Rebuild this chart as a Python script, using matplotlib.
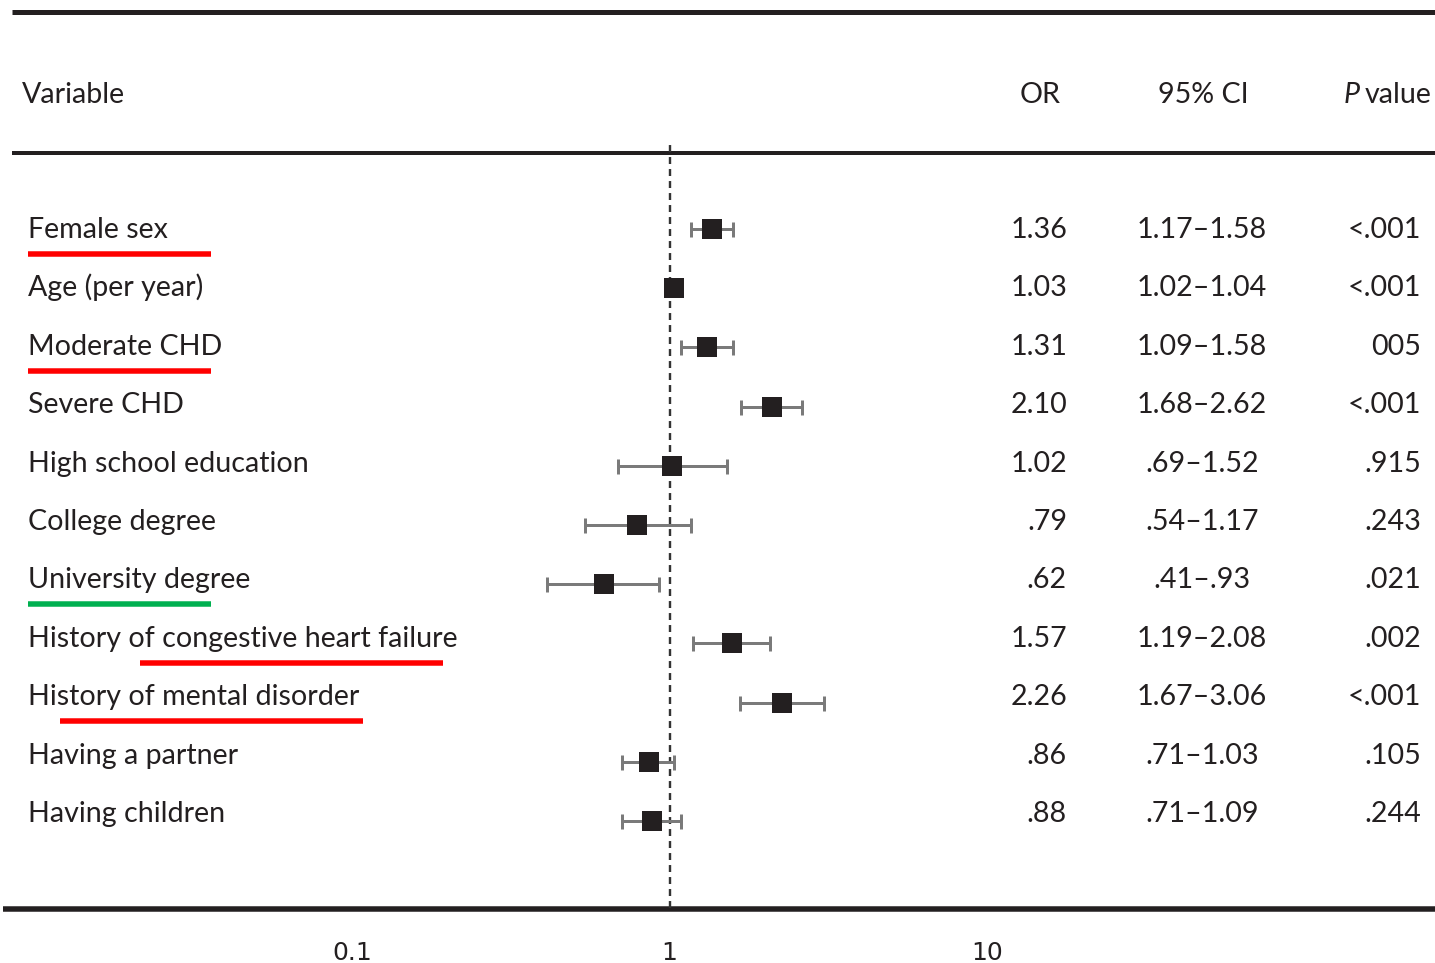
import matplotlib
matplotlib.use('Agg')
import matplotlib.pyplot as plt
from matplotlib.ticker import NullLocator

# ---------------- data ----------------
variables = ['Female sex', 'Age (per year)', 'Moderate CHD', 'Severe CHD',
             'High school education', 'College degree', 'University degree',
             'History of congestive heart failure', 'History of mental disorder',
             'Having a partner', 'Having children']
odds_ratios = [1.36, 1.03, 1.31, 2.10, 1.02, 0.79, 0.62, 1.57, 2.26, 0.86, 0.88]
ci_low = [1.17, 1.02, 1.09, 1.68, 0.69, 0.54, 0.41, 1.19, 1.67, 0.71, 0.71]
ci_high = [1.58, 1.04, 1.58, 2.62, 1.52, 1.17, 0.93, 2.08, 3.06, 1.03, 1.09]
or_labels = ['1.36', '1.03', '1.31', '2.10', '1.02', '.79', '.62', '1.57', '2.26', '.86', '.88']
ci_labels = ['1.17\u20131.58', '1.02\u20131.04', '1.09\u20131.58', '1.68\u20132.62',
             '.69\u20131.52', '.54\u20131.17', '.41\u2013.93', '1.19\u20132.08',
             '1.67\u20133.06', '.71\u20131.03', '.71\u20131.09']
p_labels = ['<.001', '<.001', '005', '<.001', '.915', '.243', '.021', '.002',
            '<.001', '.105', '.244']
tick_values = [0.1, 1, 10]
tick_labels = ['0.1', '1', '10']
headers = ['Variable', 'OR', '95% CI', 'value']

# highlight underlines: (row, x start px, x end px, colour)
highlights = [(0, 28, 211, '#ff0000'), (2, 28, 211, '#ff0000'),
              (6, 28, 211, '#00b050'), (7, 140, 443, '#ff0000'),
              (8, 60, 363, '#ff0000')]

# ---------------- layout ----------------
W, H = 1435, 963
PX = 72 / 100.0  # points per pixel
dark = '#231f20'
font = 'Lato'
fs = 20.6

fig = plt.figure(figsize=(W / 100, H / 100), dpi=100)
tax = fig.add_axes([0, 0, 1, 1])
tax.set_xlim(0, W)
tax.set_ylim(H, 0)
tax.axis('off')

# forest axes (log scale)
top_px, bot_px = 145, 908
row0_px, row_step_px = 229, 59.2
ax = fig.add_axes([0, (H - bot_px) / H, 1, (bot_px - top_px) / H])
ax.set_xscale('log')
dec = 317.5
x0 = 352
ax.set_xlim(10 ** (-1 - x0 / dec), 10 ** (-1 + (W - x0) / dec))
ax.set_ylim((bot_px - row0_px) / row_step_px, (top_px - row0_px) / row_step_px)
ax.patch.set_alpha(0)
for s in ax.spines.values():
    s.set_visible(False)
ax.set_yticks([])
ax.set_xticks(tick_values)
ax.set_xticklabels(tick_labels, fontfamily='Liberation Sans Narrow', fontsize=18, color=dark)
ax.xaxis.set_minor_locator(NullLocator())
ax.tick_params(axis='x', length=0, pad=24)

rows = list(range(len(variables)))
ax.axvline(1, color='#333333', lw=2.4 * PX, linestyle=(0, (2.9, 2.1)), zorder=1)
xerr = [[o - l for o, l in zip(odds_ratios, ci_low)],
        [h - o for o, h in zip(odds_ratios, ci_high)]]
ax.errorbar(odds_ratios, rows, xerr=xerr, fmt='none', ecolor='#7a7a7a',
            elinewidth=3 * PX, capsize=7.5 * PX, capthick=3 * PX, zorder=2)
ax.plot(odds_ratios, rows, linestyle='none', marker='s', ms=20 * PX,
        mfc=dark, mec=dark, mew=0, zorder=3)

# rules
tax.hlines(12.5, 12, W, color=dark, lw=5 * PX)
tax.hlines(153, 12, W, color=dark, lw=4 * PX)
tax.hlines(909, 3, W, color=dark, lw=5.5 * PX)

# headers
hb = 103
tax.text(22, hb, headers[0], ha='left', va='baseline', fontsize=fs, family=font, color=dark)
tax.text(1040, hb, headers[1], ha='center', va='baseline', fontsize=fs, family=font, color=dark)
tax.text(1203, hb, headers[2], ha='center', va='baseline', fontsize=fs, family=font, color=dark)
vt = tax.text(1432, hb, headers[3], ha='right', va='baseline', fontsize=fs, family=font, color=dark)
tax.annotate('P', xy=(0, hb), xycoords=(vt, 'data'), xytext=(-5, 0),
             textcoords='offset pixels', ha='right', va='baseline',
             fontsize=fs, family=font, style='italic', color=dark)

# rows
tb0, tstep = 238, 58.4
for i, name in enumerate(variables):
    yb = tb0 + i * tstep
    tax.text(28, yb, name, ha='left', va='baseline', fontsize=fs, family=font, color=dark)
    tax.text(1067, yb, or_labels[i], ha='right', va='baseline', fontsize=fs, family=font, color=dark)
    tax.text(1202, yb, ci_labels[i], ha='center', va='baseline', fontsize=fs, family=font, color=dark)
    tax.text(1421, yb, p_labels[i], ha='right', va='baseline', fontsize=fs, family=font, color=dark)

for r, xa, xb, c in highlights:
    y = tb0 + r * tstep + 16
    tax.hlines(y, xa, xb, color=c, lw=5.5 * PX)

fig.savefig('out.png', dpi=100)
